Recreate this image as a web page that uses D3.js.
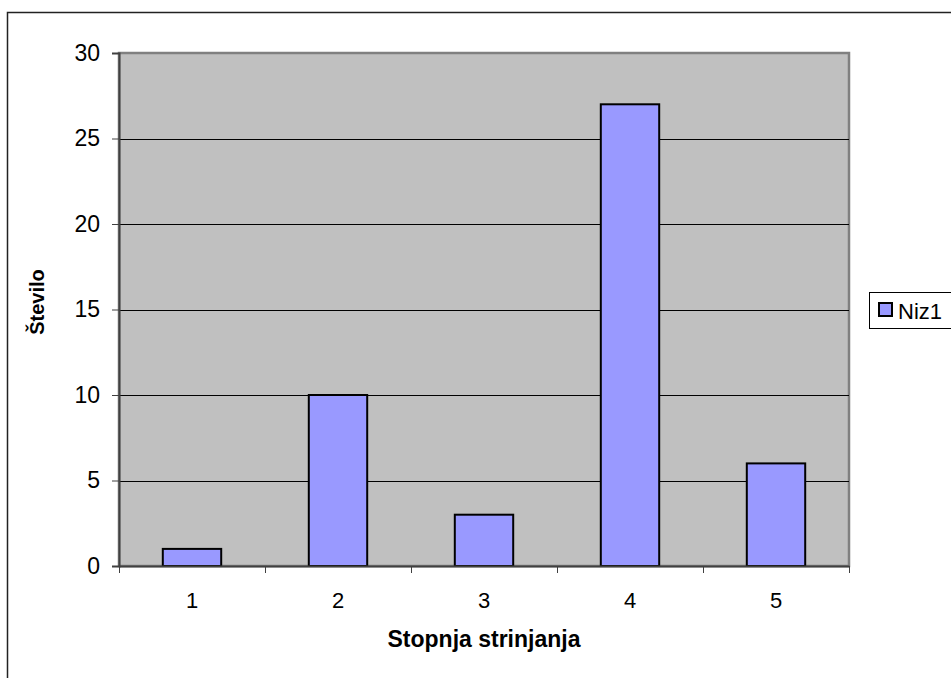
<!DOCTYPE html>
<html>
<head>
<meta charset="utf-8">
<script src="https://cdn.jsdelivr.net/npm/d3@7"></script>
<style>
  html, body { margin: 0; padding: 0; background: #fff; }
  svg { display: block; font-family: "Liberation Sans", Arial, sans-serif; }
</style>
</head>
<body>
<svg id="chart" width="951" height="678"></svg>
<script>
// Answers per level of agreement
const categories = ["1", "2", "3", "4", "5"];
const values = [1, 10, 3, 27, 6];
const yTicks = [0, 5, 10, 15, 20, 25, 30];
const seriesName = "Niz1";
const xTitle = "Stopnja strinjanja";
const yTitle = "Število";

const svg = d3.select("#chart");
const plot = { left: 119, top: 53, right: 849, bottom: 566 };
const font = "Liberation Sans, Arial, sans-serif";

// Outer chart frame
svg.append("rect")
  .attr("x", 7.5).attr("y", 12.5)
  .attr("width", 1000).attr("height", 1000)
  .attr("fill", "#fff").attr("stroke", "#222").attr("stroke-width", 1.5);

const x = d3.scaleBand().domain(categories).range([plot.left, plot.right]);
const y = d3.scaleLinear().domain([0, 30]).range([plot.bottom, plot.top]);

// Plot area background
svg.append("rect")
  .attr("x", plot.left).attr("y", plot.top)
  .attr("width", plot.right - plot.left).attr("height", plot.bottom - plot.top)
  .attr("fill", "#c0c0c0").attr("stroke", "#808080").attr("stroke-width", 2.5);

// Horizontal gridlines
svg.append("g").selectAll("line")
  .data(yTicks.filter(d => d > 0 && d < 30))
  .join("line")
  .attr("x1", plot.left).attr("x2", plot.right)
  .attr("y1", d => Math.round(y(d)) + 0.5).attr("y2", d => Math.round(y(d)) + 0.5)
  .attr("stroke", "#000").attr("stroke-width", 1);

// Bars: 150% gap width
const barW = x.bandwidth() * 0.4;
svg.append("g").selectAll("rect")
  .data(values)
  .join("rect")
  .attr("x", (d, i) => x(categories[i]) + (x.bandwidth() - barW) / 2)
  .attr("y", d => y(d))
  .attr("width", barW)
  .attr("height", d => plot.bottom - y(d))
  .attr("fill", "#9999ff").attr("stroke", "#000").attr("stroke-width", 2);

// Y axis
const yAxis = svg.append("g")
  .attr("transform", `translate(${plot.left},0)`)
  .call(d3.axisLeft(y).tickValues(yTicks).tickSize(7).tickPadding(12));
yAxis.select(".domain").attr("stroke", "#404040").attr("stroke-width", 2);
yAxis.selectAll(".tick line").attr("stroke", "#404040").attr("stroke-width", 1);
yAxis.selectAll(".tick text")
  .attr("font-size", 23).attr("fill", "#000").attr("font-family", font);

// X axis with ticks between categories
const xAxis = svg.append("g")
  .attr("transform", `translate(0,${plot.bottom})`)
  .call(d3.axisBottom(x).tickSize(0).tickPadding(26));
xAxis.select(".domain").attr("stroke", "#404040").attr("stroke-width", 2);
xAxis.selectAll(".tick text")
  .attr("font-size", 22).attr("fill", "#000").attr("font-family", font);
svg.append("g").selectAll("line")
  .data(d3.range(categories.length + 1))
  .join("line")
  .attr("x1", i => Math.round(plot.left + i * x.step()) + 0.5)
  .attr("x2", i => Math.round(plot.left + i * x.step()) + 0.5)
  .attr("y1", plot.bottom).attr("y2", plot.bottom + 7)
  .attr("stroke", "#404040").attr("stroke-width", 1);

// Axis titles
svg.append("text")
  .attr("x", (plot.left + plot.right) / 2).attr("y", 647)
  .attr("text-anchor", "middle")
  .attr("font-size", 23).attr("font-weight", "bold").attr("font-family", font)
  .text(xTitle);
svg.append("text")
  .attr("transform", `translate(44,302) rotate(-90)`)
  .attr("text-anchor", "middle")
  .attr("font-size", 20).attr("font-weight", "bold").attr("font-family", font)
  .text(yTitle);

// Legend
const lg = svg.append("g");
lg.append("rect")
  .attr("x", 869.5).attr("y", 292.5).attr("width", 100).attr("height", 36)
  .attr("fill", "#fff").attr("stroke", "#000").attr("stroke-width", 1);
lg.append("rect")
  .attr("x", 879).attr("y", 303).attr("width", 13).attr("height", 13)
  .attr("fill", "#9999ff").attr("stroke", "#000").attr("stroke-width", 2);
lg.append("text")
  .attr("x", 898).attr("y", 319)
  .attr("font-size", 22).attr("font-family", font)
  .text(seriesName);
</script>
</body>
</html>
